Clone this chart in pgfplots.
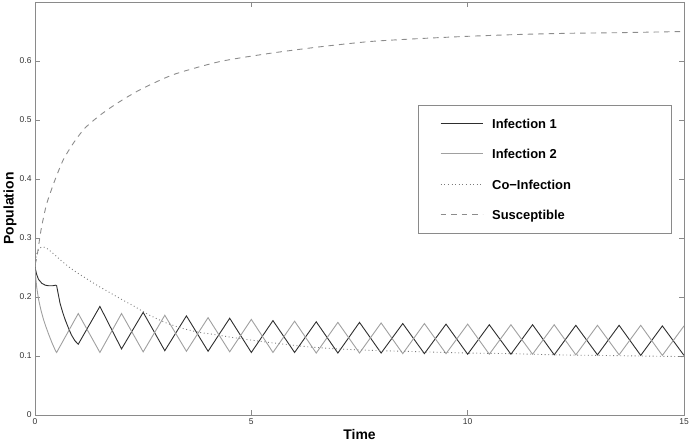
\documentclass[border=0pt]{standalone}
\usepackage{fontspec}
\setmainfont{Liberation Sans}
\usepackage{pgfplots}
\pgfplotsset{compat=1.18}

\definecolor{inf1}{HTML}{2E2E2E}
\definecolor{inf2}{HTML}{A0A0A0}
\definecolor{coinf}{HTML}{7A7A7A}
\definecolor{susc}{HTML}{8C8C8C}
\definecolor{axisgray}{HTML}{8A8A8A}
\definecolor{ticktext}{HTML}{333333}

\begin{document}
\begin{tikzpicture}
\begin{axis}[
  scale only axis, width=649bp, height=413bp,
  xmin=0, xmax=15, ymin=0, ymax=0.7,
  xtick={0,5,10,15}, ytick={0,0.1,0.2,0.3,0.4,0.5,0.6},
  tick align=inside, major tick length=5bp,
  axis line style={axisgray, line width=0.7bp},
  tick style={axisgray, line width=0.6bp},
  /pgf/number format/assume math mode=true,
  tick label style={font=\fontsize{8.5}{10}\selectfont, text=ticktext},
  xlabel={Time}, ylabel={Population},
  label style={font=\bfseries\fontsize{14}{16}\selectfont},
  xlabel style={at={(axis description cs:0.5,-0.048)}, anchor=center, inner sep=0pt},
  ylabel style={at={(axis description cs:-0.0385,0.5)}, anchor=center, inner sep=0pt},
  legend style={at={(0.590,0.751)}, anchor=north west, draw=axisgray, line width=0.7bp,
    fill=white, font=\bfseries\fontsize{13}{15}\selectfont,
    inner xsep=22bp, inner ysep=13.5bp, row sep=21bp, column sep=9bp,
    nodes={inner sep=0bp, text height=9.5bp, text depth=0bp}},
  legend cell align=left,
  legend image code/.code={\draw[#1] (0bp,0bp) -- (42bp,0bp);},
]
\addplot[inf1, line width=0.9bp] coordinates {
(0,0.250) (0.04,0.238) (0.08,0.230) (0.16,0.223) (0.24,0.220) (0.32,0.219)
(0.40,0.219) (0.48,0.220) (0.50,0.219) (0.54,0.204) (0.58,0.189) (0.64,0.174)
(0.70,0.161) (0.77,0.148) (0.84,0.136) (0.92,0.126) (1.00,0.120) (1.50,0.184)
(2.00,0.112) (2.50,0.174) (3.00,0.109) (3.50,0.168) (4.00,0.108) (4.50,0.164)
(5.00,0.106) (5.50,0.160) (6.00,0.106) (6.50,0.158) (7.00,0.105) (7.50,0.157)
(8.00,0.105) (8.50,0.155) (9.00,0.104) (9.50,0.154) (10.00,0.103) (10.50,0.153)
(11.00,0.103) (11.50,0.153) (12.00,0.102) (12.50,0.152) (13.00,0.102) (13.50,0.152)
(14.00,0.101) (14.50,0.151) (15.00,0.101)
};
\addlegendentry{\makebox[157bp][l]{Infection 1}}
\addplot[inf2, line width=0.9bp] coordinates {
(0,0.250) (0.02,0.231) (0.04,0.216) (0.085,0.195) (0.14,0.177) (0.20,0.161)
(0.26,0.148) (0.32,0.136) (0.40,0.121) (0.48,0.108) (0.50,0.106) (1.00,0.172)
(1.50,0.106) (2.00,0.172) (2.50,0.107) (3.00,0.169) (3.50,0.108) (4.00,0.165)
(4.50,0.107) (5.00,0.162) (5.50,0.106) (6.00,0.159) (6.50,0.105) (7.00,0.157)
(7.50,0.105) (8.00,0.156) (8.50,0.104) (9.00,0.155) (9.50,0.104) (10.00,0.154)
(10.50,0.103) (11.00,0.153) (11.50,0.103) (12.00,0.153) (12.50,0.102) (13.00,0.152)
(13.50,0.102) (14.00,0.152) (14.50,0.101) (15.00,0.151)
};
\addlegendentry{\makebox[157bp][l]{Infection 2}}
\addplot[coinf, line width=0.9bp, dash pattern=on 0.9bp off 2.7bp, smooth, tension=0.4] coordinates {
(0,0.255) (0.04,0.273) (0.10,0.282) (0.18,0.285) (0.28,0.282) (0.40,0.275)
(0.60,0.262) (0.80,0.250) (1.00,0.240) (1.30,0.226) (1.50,0.217) (2.00,0.196)
(2.30,0.184) (2.60,0.171) (3.00,0.157) (3.40,0.147) (3.80,0.140) (4.10,0.137)
(4.60,0.131) (5.30,0.124) (6.00,0.118) (6.40,0.115) (7.00,0.112) (7.60,0.110)
(8.00,0.109) (9.00,0.107) (10.00,0.105) (11.00,0.104) (12.00,0.102) (13.00,0.101)
(14.00,0.100) (15.00,0.099)
};
\addlegendentry{\makebox[157bp][l]{Co\textminus Infection}}
\addplot[susc, line width=0.9bp, dash pattern=on 5.5bp off 5bp, smooth, tension=0.4] coordinates {
(0,0.255) (0.04,0.266) (0.10,0.295) (0.15,0.318) (0.27,0.358) (0.46,0.398)
(0.65,0.432) (0.88,0.460) (1.15,0.486) (1.50,0.508) (1.89,0.528) (2.42,0.551)
(3.20,0.577) (4.27,0.599) (5.43,0.613) (6.58,0.624) (7.74,0.633) (8.89,0.638)
(10.05,0.642) (11.20,0.645) (12.36,0.647) (13.50,0.648) (15.00,0.650)
};
\addlegendentry{\makebox[157bp][l]{Susceptible}}
\end{axis}
\pgfresetboundingbox
\path (current axis.south west) ++(-35bp,-30bp) rectangle ++(689bp,445bp);
\end{tikzpicture}
\end{document}
